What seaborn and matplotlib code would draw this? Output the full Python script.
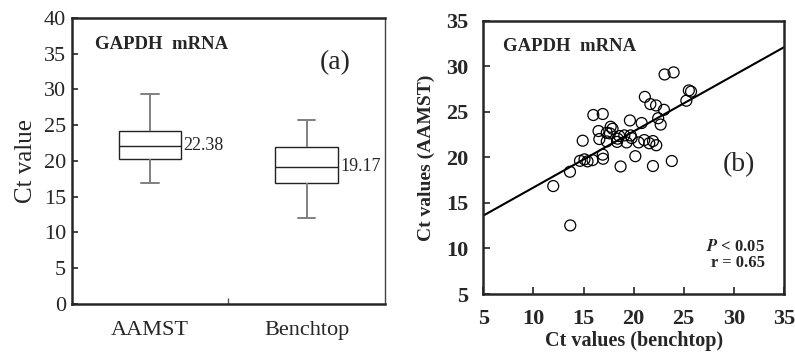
import numpy as np
import pandas as pd
import seaborn as sns
import matplotlib.pyplot as plt

# Ct values (benchtop on x, AAMST on y)
benchtop = [11.98, 13.68, 13.65, 14.92, 14.65, 15.10, 15.40, 15.90, 15.98, 16.92,
            16.50, 16.58, 16.92, 16.95, 17.32, 17.32, 17.71, 17.90, 17.64, 18.40,
            18.57, 18.70, 19.07, 19.30, 19.63, 19.70, 19.80, 20.17, 20.50, 20.80,
            21.12, 21.06, 21.56, 21.67, 21.93, 21.93, 22.24, 22.26, 22.45, 22.70,
            23.09, 23.03, 23.81, 23.99, 25.26, 25.51, 25.73, 18.35]
aamst = [16.85, 12.53, 18.42, 21.83, 19.62, 19.78, 19.56, 19.70, 24.65, 24.76,
         22.89, 22.01, 20.30, 19.85, 22.70, 21.75, 23.36, 23.14, 22.63, 22.05,
         22.34, 19.00, 22.41, 21.64, 24.05, 22.41, 22.12, 20.13, 21.64, 23.77,
         26.64, 21.90, 21.55, 25.85, 21.79, 19.05, 25.70, 21.33, 24.30, 23.60,
         29.10, 25.22, 19.60, 29.33, 26.22, 27.35, 27.22, 21.70]
groups = ['AAMST', 'Benchtop']
mean_labels = ['22.38', '19.17']

sns.set_style('ticks')
plt.rcParams['font.family'] = ['Liberation Serif', 'DejaVu Serif']
plt.rcParams['mathtext.fontset'] = 'stix'

fig = plt.figure(figsize=(7.95, 3.53), dpi=100)
ax1 = fig.add_axes([0.0902, 0.1388, 0.3941, 0.8110])
ax2 = fig.add_axes([0.6079, 0.1671, 0.3782, 0.7742])

# (a) box plot
box_df = pd.DataFrame({'group': np.repeat(groups, len(aamst)),
                       'ct': aamst + benchtop})
sns.boxplot(data=box_df, x='group', y='ct', ax=ax1, width=0.4, color='white',
            linecolor='#222222', linewidth=1, showfliers=False,
            whiskerprops={'color': '#808080', 'linewidth': 1.4},
            capprops={'color': '#808080', 'linewidth': 1.4}, capwidths=0.11)
ax1.set_xlim(-0.5, 1.5)
ax1.set_ylim(0, 40)
ax1.set_yticks(range(0, 41, 5))
ax1.set_xticks([0, 1])
ax1.set_xticks([0.5], minor=True)
ax1.tick_params(axis='x', which='major', length=0, labelsize=16, pad=12)
ax1.tick_params(axis='x', which='minor', direction='in', length=4, width=1, color='#555555')
ax1.tick_params(axis='y', direction='in', length=4, width=1.2, labelsize=16, pad=4)
ax1.set_xlabel('')
ax1.set_ylabel('Ct value', fontsize=18, labelpad=5)
for side in ['left', 'bottom', 'top']:
    ax1.spines[side].set_linewidth(1.8)
ax1.spines['right'].set_linewidth(1)
ax1.spines['right'].set_color('#444444')

med = box_df.groupby('group')['ct'].median()
for i, g in enumerate(groups):
    ax1.text(i + 0.215, med[g], mean_labels[i], fontsize=13, va='center', ha='left')
ax1.text(0.074, 0.908, 'GAPDH  mRNA', transform=ax1.transAxes, fontsize=13.5,
         fontweight='bold', va='center')
ax1.text(0.84, 0.842, '(a)', transform=ax1.transAxes, fontsize=20, va='center', ha='center')

# (b) scatter with linear fit
ax2.set_xlim(5, 35)
ax2.set_ylim(5, 35)
sns.scatterplot(x=benchtop, y=aamst, ax=ax2, s=62, facecolors='none',
                edgecolors='black', linewidths=0.9)
sns.regplot(x=benchtop, y=aamst, ax=ax2, scatter=False, ci=None, truncate=False,
            line_kws={'color': 'black', 'lw': 1.5})
ax2.set_xlim(5, 35)
ax2.set_ylim(5, 35)
ax2.set_xticks(range(5, 36, 5))
ax2.set_yticks(range(5, 36, 5))
ax2.tick_params(direction='in', length=5, width=1.2, labelsize=16, pad=11)
plt.setp(ax2.get_xticklabels() + ax2.get_yticklabels(), fontweight='bold')
ax2.set_xlabel('Ct values (benchtop)', fontsize=14.5, fontweight='bold', labelpad=1)
ax2.set_ylabel('Ct values (AAMST)', fontsize=14, fontweight='bold', labelpad=8)
for side in ax2.spines:
    ax2.spines[side].set_linewidth(1.8)

ax2.text(0.067, 0.905, 'GAPDH  mRNA', transform=ax2.transAxes, fontsize=13.5,
         fontweight='bold', va='center')
ax2.text(0.851, 0.472, '(b)', transform=ax2.transAxes, fontsize=20, va='center', ha='center')
ax2.text(0.937, 0.173, r'$\mathbfit{P}$ < 0.05', transform=ax2.transAxes, fontsize=12,
         fontweight='bold', va='center', ha='right')
ax2.text(0.937, 0.112, 'r = 0.65', transform=ax2.transAxes, fontsize=12,
         fontweight='bold', va='center', ha='right')

fig.savefig('out.png', dpi=100)
